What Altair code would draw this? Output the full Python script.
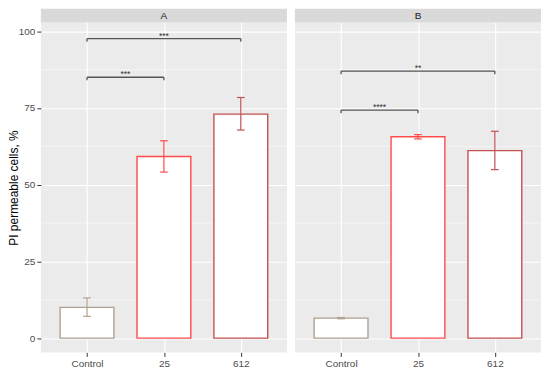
import json
import altair as alt
import pandas as pd

# ---------------- data ----------------
categories = ["Control", "25", "612"]
positions = [1, 2, 3]
colors = ["#B0A090", "#FF4A4A", "#C45050"]

a_mean = [10.0, 59.2, 73.0]
a_low = [7.1, 54.1, 67.8]
a_high = [13.1, 64.3, 78.4]

b_mean = [6.5, 65.6, 61.1]
b_low = [6.3, 64.9, 54.9]
b_high = [6.7, 66.3, 67.4]

a_br_from = [1, 1]
a_br_to = [2, 3]
a_br_y = [85.0, 97.6]
a_br_label = ["***", "***"]

b_br_from = [1, 1]
b_br_to = [2, 3]
b_br_y = [74.3, 87.0]
b_br_label = ["****", "**"]

major_ticks = [0, 25, 50, 75, 100]
minor_ticks = [12.5, 37.5, 62.5, 87.5]

Y_DOMAIN = [-4.65, 102.8]
X_DOMAIN = [0.4, 3.6]
H = 331
STRIP = 14
FONT = "Liberation Sans"

label_expr = json.dumps(categories) + "[datum.value - 1]"


def panel(name, mean, low, high, bfrom, bto, by, blabel, width, show_y):
    df = pd.DataFrame({"cat": categories, "pos": positions, "mean": mean,
                       "low": low, "high": high, "color": colors})
    dfb = pd.DataFrame({"from": bfrom, "to": bto, "y": by, "label": blabel})

    xs = alt.Scale(domain=X_DOMAIN, nice=False, zero=False)
    ys = alt.Scale(domain=Y_DOMAIN, nice=False, zero=False)

    x_axis = alt.Axis(values=positions, labelExpr=label_expr, title=None,
                      grid=True, gridColor="white", gridWidth=1.1,
                      domain=False, tickColor="#333333", tickSize=4,
                      labelColor="#4D4D4D", labelFontSize=10, labelFont=FONT,
                      labelPadding=2)
    if show_y:
        y_axis = alt.Axis(values=major_ticks, title="PI permeable cells, %",
                          grid=True, gridColor="white", gridWidth=1.1,
                          domain=False, tickColor="#333333", tickSize=4,
                          labelColor="#4D4D4D", labelFontSize=10, labelFont=FONT,
                          labelPadding=2, titleFont=FONT, titleFontSize=12,
                          titleFontWeight="normal", titleColor="#000000",
                          titleX=-20, titleBaseline="bottom")
    else:
        y_axis = alt.Axis(values=major_ticks, title=None, labels=False, ticks=False,
                          grid=True, gridColor="white", gridWidth=1.1, domain=False)

    base = alt.Chart(df).transform_calculate(
        xl="datum.pos - 0.35", xr="datum.pos + 0.35",
        cl="datum.pos - 0.05", cr="datum.pos + 0.05")

    minor = alt.Chart(pd.DataFrame({"v": minor_ticks})).mark_rule(
        color="white", strokeWidth=0.5).encode(
        y=alt.Y("v:Q", scale=ys, axis=y_axis),
        x=alt.value(0), x2=alt.value(width))

    bars = base.mark_rect(fill="white", strokeWidth=1.4).encode(
        x=alt.X("xl:Q", scale=xs, axis=x_axis), x2="xr:Q",
        y=alt.Y("mean:Q", scale=ys), y2=alt.datum(0),
        stroke=alt.Color("color:N", scale=None))

    ebar = base.mark_rule(strokeWidth=1.2).encode(
        x="pos:Q", y="low:Q", y2="high:Q",
        color=alt.Color("color:N", scale=None))
    cap_lo = base.mark_rule(strokeWidth=1.2).encode(
        x="cl:Q", x2="cr:Q", y="low:Q",
        color=alt.Color("color:N", scale=None))
    cap_hi = base.mark_rule(strokeWidth=1.2).encode(
        x="cl:Q", x2="cr:Q", y="high:Q",
        color=alt.Color("color:N", scale=None))

    bbase = alt.Chart(dfb).transform_calculate(
        mid="(datum.from + datum.to) / 2", ydown="datum.y - 1.0")
    bline = bbase.mark_rule(color="#555555", strokeWidth=1.3).encode(
        x="from:Q", x2="to:Q", y="y:Q")
    btick1 = bbase.mark_rule(color="#555555", strokeWidth=1.3).encode(
        x="from:Q", y="y:Q", y2="ydown:Q")
    btick2 = bbase.mark_rule(color="#555555", strokeWidth=1.3).encode(
        x="to:Q", y="y:Q", y2="ydown:Q")
    btext = bbase.mark_text(fontSize=8.5, font=FONT, color="#333333",
                            baseline="alphabetic", dy=0).encode(
        x="mid:Q", y="y:Q", text="label:N")

    strip = alt.Chart(pd.DataFrame({"s": [name]})).mark_rect(fill="#D9D9D9").encode(
        x=alt.value(0), x2=alt.value(width), y=alt.value(-STRIP), y2=alt.value(0))
    strip_txt = alt.Chart(pd.DataFrame({"s": [name]})).mark_text(
        fontSize=10, font=FONT, color="#1A1A1A", baseline="middle").encode(
        x=alt.value(width / 2), y=alt.value(-STRIP / 2), text="s:N")

    return alt.layer(minor, bars, ebar, cap_lo, cap_hi, bline, btick1, btick2,
                     btext, strip, strip_txt).properties(width=width, height=H)


pA = panel("A", a_mean, a_low, a_high, a_br_from, a_br_to, a_br_y, a_br_label, 247, True)
pB = panel("B", b_mean, b_low, b_high, b_br_from, b_br_to, b_br_y, b_br_label, 247, False)

chart = alt.hconcat(pA, pB, spacing=6).properties(padding=0).configure(
    background="white").configure_view(fill="#EBEBEB", strokeWidth=0)

chart.save("out.html", embed_options={"renderer": "svg", "actions": False})
